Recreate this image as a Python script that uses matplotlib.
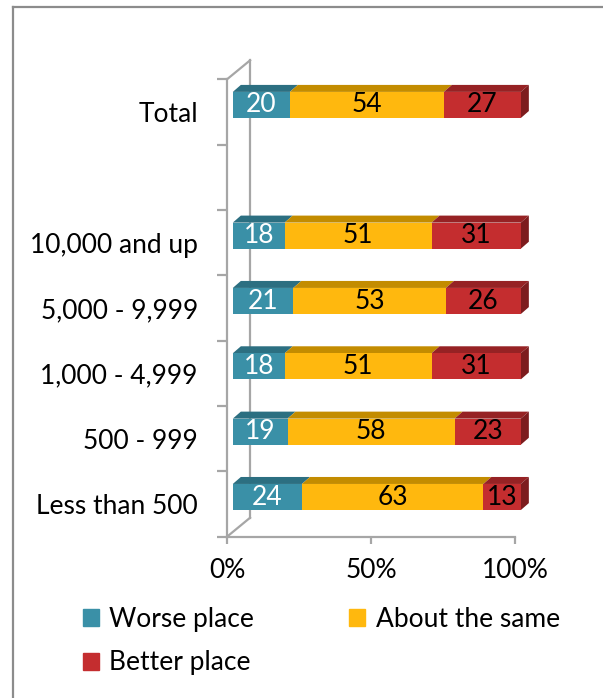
import matplotlib
matplotlib.use('Agg')
import matplotlib.pyplot as plt
from matplotlib.patches import Polygon, Patch
from matplotlib.lines import Line2D
import numpy as np

plt.rcParams['font.family'] = ['Lato', 'DejaVu Sans']

# data (bottom to top, blank slot between groups and Total)
categories = ['Less than 500', '500 - 999', '1,000 - 4,999', '5,000 - 9,999',
              '10,000 and up', '', 'Total']
worse = [24, 19, 18, 21, 18, None, 20]
same = [63, 58, 51, 53, 51, None, 54]
better = [13, 23, 31, 26, 31, None, 27]
series_names = ['Worse place', 'About the same', 'Better place']

# face colours: front, top, side
colors = ['#3A90A7', '#FFB80E', '#C42D2F']
top_colors = ['#2C6F81', '#C38C00', '#962224']
side_colors = ['#236270', '#A87800', '#7D1C1E']
text_colors = ['white', 'black', 'black']

gray = '#A6A6A6'
fs = 19

fig = plt.figure(figsize=(6.03, 6.98), dpi=100)
ax = fig.add_axes([0.3765, 0.2311, 0.4776, 0.6553])

# 3d-ish geometry
x_shift = 2.0      # bars sit a little behind the front wall
dx, dy = 2.8, 0.107  # depth of bar top/side
bar_off = 0.107
bar_h = 0.40

for i, cat in enumerate(categories):
    vals = [worse[i], same[i], better[i]]
    if vals[0] is None:
        continue
    total = sum(vals)
    widths = [v / total * 100 for v in vals]
    y0 = i + bar_off - bar_h / 2
    y1 = i + bar_off + bar_h / 2
    left = x_shift
    for k, (v, w) in enumerate(zip(vals, widths)):
        ax.barh(i + bar_off, w, left=left, height=bar_h, color=colors[k],
                linewidth=0, clip_on=False, zorder=3)
        ax.add_patch(Polygon([(left, y1), (left + w, y1), (left + w + dx, y1 + dy),
                              (left + dx, y1 + dy)], closed=True,
                             facecolor=top_colors[k], edgecolor='none',
                             clip_on=False, zorder=2))
        ax.text(left + w / 2, i + bar_off, str(v), ha='center', va='center',
                color=text_colors[k], fontsize=fs, zorder=4)
        left += w
    ax.add_patch(Polygon([(left, y0), (left + dx, y0 + dy), (left + dx, y1 + dy),
                          (left, y1)], closed=True, facecolor=side_colors[2],
                         edgecolor='none', clip_on=False, zorder=2))

ax.set_xlim(0, 100)
ax.set_ylim(-0.5, len(categories) - 0.5)

# back wall edge and the two diagonals
wall_dx, wall_dy = 8.0, 0.29
ytop = len(categories) - 0.5
ax.plot([0, wall_dx], [ytop, ytop + wall_dy], color=gray, lw=1.6, clip_on=False, zorder=1)
ax.plot([0, wall_dx], [-0.5, -0.5 + wall_dy], color=gray, lw=1.6, clip_on=False, zorder=1)
ax.plot([wall_dx, wall_dx], [-0.5 + wall_dy, ytop + wall_dy], color=gray, lw=1.6,
        clip_on=False, zorder=1)

for s in ['top', 'right']:
    ax.spines[s].set_visible(False)
for s in ['left', 'bottom']:
    ax.spines[s].set_color(gray)
    ax.spines[s].set_linewidth(1.6)
    ax.spines[s].set_zorder(1)
ax.patch.set_alpha(0)

ax.set_xticks([0, 50, 100], ['0%', '50%', '100%'])
ax.tick_params(axis='x', length=5, width=1.6, color=gray, labelsize=fs, pad=10)
ax.set_yticks(np.arange(-0.5, len(categories), 1.0))
ax.set_yticklabels([])
ax.tick_params(axis='y', which='major', length=7, width=1.6, color=gray)
ax.set_yticks(range(len(categories)), categories, minor=True)
ax.tick_params(axis='y', which='minor', length=0, pad=21, labelsize=fs)

# legend
handles = [Patch(color=colors[0], label=series_names[0]),
           Patch(color=colors[2], label=series_names[2]),
           Patch(color=colors[1], label=series_names[1])]
fig.legend(handles=handles, ncol=2, loc='upper left',
           bbox_to_anchor=(83 / 603, 1 - 607 / 698), frameon=False,
           fontsize=fs, borderpad=0, borderaxespad=0, handlelength=0.6,
           handleheight=0.6, handletextpad=0.4, columnspacing=3.6,
           labelspacing=0.7)

# chart frame (cropped at right and bottom)
fig.add_artist(Line2D([13 / 603, 13 / 603], [0, 1 - 7 / 698], color='#8C8C8C', lw=1.6))
fig.add_artist(Line2D([13 / 603, 1], [1 - 7 / 698, 1 - 7 / 698], color='#8C8C8C', lw=1.6))

fig.savefig('out.png', dpi=100)
